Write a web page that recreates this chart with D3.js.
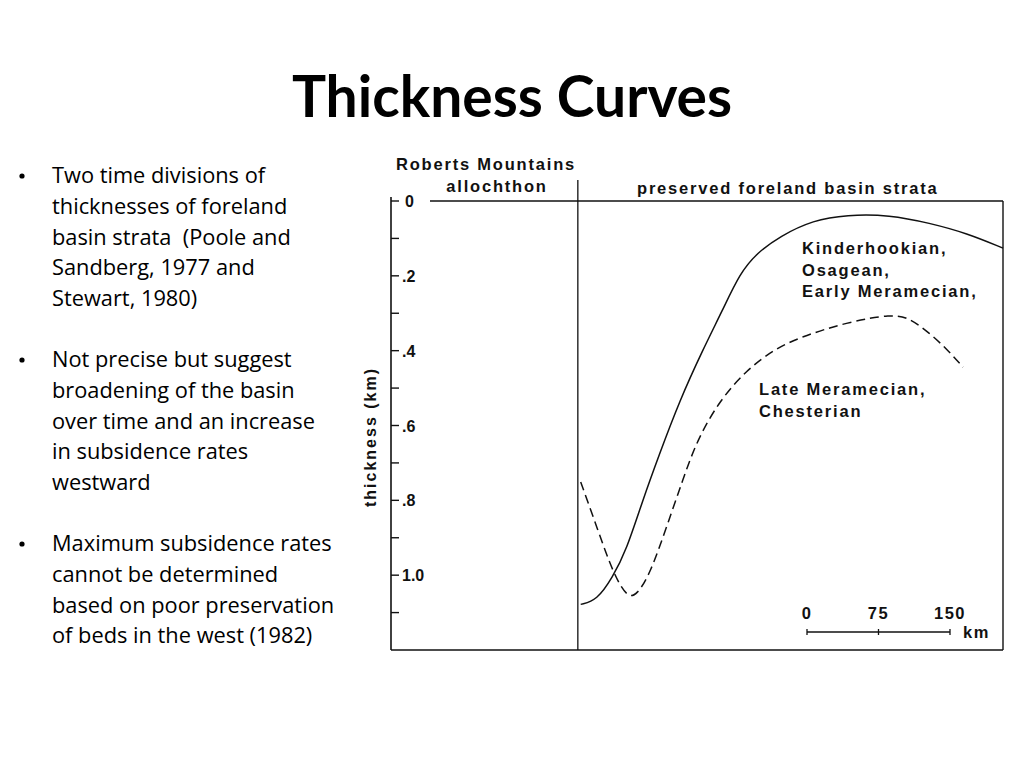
<!DOCTYPE html>
<html>
<head>
<meta charset="utf-8">
<script src="https://cdn.jsdelivr.net/npm/d3@7"></script>
<style>
  body { margin: 0; background: #fff; }
  svg { display: block; }
</style>
</head>
<body>
<svg id="chart" width="1024" height="768"></svg>
<script>
// data: distance east of the allochthon front (km) and thickness (km)
var earlyKm = [3, 20, 36, 51, 68, 85, 107, 131, 152, 170, 188, 212, 247, 282, 327, 369, 408, 446];
var earlyThick = [1.078, 1.067, 1.008, 0.933, 0.80, 0.68, 0.532, 0.398, 0.291, 0.193, 0.139, 0.094, 0.051, 0.037, 0.037, 0.059, 0.086, 0.126];
var lateKm = [3, 20, 37, 52, 62, 76, 93, 110, 125, 149, 177, 205, 233, 282, 330, 348, 369, 388, 404];
var lateThick = [0.751, 0.872, 0.995, 1.061, 1.053, 0.995, 0.872, 0.746, 0.639, 0.532, 0.452, 0.398, 0.364, 0.324, 0.302, 0.313, 0.353, 0.398, 0.444];
var majorTicks = [0, 0.2, 0.4, 0.6, 0.8, 1.0];
var majorLabels = ["0", ".2", ".4", ".6", ".8", "1.0"];
var minorTicks = [0.1, 0.3, 0.5, 0.7, 0.9, 1.1];
var scaleKm = [0, 75, 150];
var earlyLabel = ["Kinderhookian,", "Osagean,", "Early Meramecian,"];
var lateLabel = ["Late Meramecian,", "Chesterian"];
var bullets = [
  ["Two time divisions of", "thicknesses of foreland", "basin strata  (Poole and", "Sandberg, 1977 and", "Stewart, 1980)"],
  ["Not precise but suggest", "broadening of the basin", "over time and an increase", "in subsidence rates", "westward"],
  ["Maximum subsidence rates", "cannot be determined", "based on poor preservation", "of beds in the west (1982)"]
];

var svg = d3.select("#chart");
var ink = "#111";
var figFont = "'Liberation Sans', Arial, sans-serif";

// title
svg.append("text")
    .attr("x", 512).attr("y", 117)
    .attr("text-anchor", "middle")
    .style("font-family", "Lato, 'Open Sans', sans-serif")
    .style("font-weight", "bold")
    .style("font-size", "57px")
    .attr("fill", "#000")
    .text("Thickness Curves");

// bullet list
var lineH = 30.8;
var paraTop = [183, 367, 551];
bullets.forEach(function (para, pi) {
    svg.append("circle")
        .attr("cx", 22).attr("cy", paraTop[pi] - 7).attr("r", 2.6)
        .attr("fill", "#000");
    para.forEach(function (line, li) {
        svg.append("text")
            .attr("x", 52).attr("y", paraTop[pi] + li * lineH)
            .style("font-family", "'Open Sans', sans-serif")
            .style("font-size", "21.8px")
            .style("white-space", "pre")
            .attr("fill", "#000")
            .text(line);
    });
});

// figure scales
var x = d3.scaleLinear().domain([-196, 446]).range([391, 1003]);
var y = d3.scaleLinear().domain([0, 1.2]).range([201, 650]);

var fig = svg.append("g");

// frame
fig.append("line").attr("x1", 391).attr("x2", 391).attr("y1", 197).attr("y2", y(1.2))
    .attr("stroke", ink).attr("stroke-width", 1.6);
fig.append("line").attr("x1", 391).attr("x2", x(446)).attr("y1", y(1.2)).attr("y2", y(1.2))
    .attr("stroke", ink).attr("stroke-width", 1.6);
fig.append("line").attr("x1", x(446)).attr("x2", x(446)).attr("y1", y(0)).attr("y2", y(1.2))
    .attr("stroke", ink).attr("stroke-width", 1.4);
fig.append("line").attr("x1", 430).attr("x2", x(446)).attr("y1", y(0)).attr("y2", y(0))
    .attr("stroke", ink).attr("stroke-width", 1.4);
fig.append("line").attr("x1", x(0)).attr("x2", x(0)).attr("y1", 180).attr("y2", y(1.2))
    .attr("stroke", ink).attr("stroke-width", 1.3);

// thickness ticks
fig.selectAll(".major").data(majorTicks).enter().append("line")
    .attr("x1", 391).attr("x2", 399)
    .attr("y1", function (d) { return y(d); }).attr("y2", function (d) { return y(d); })
    .attr("stroke", ink).attr("stroke-width", 1.4);
fig.selectAll(".minor").data(minorTicks).enter().append("line")
    .attr("x1", 391).attr("x2", 399)
    .attr("y1", function (d) { return y(d); }).attr("y2", function (d) { return y(d); })
    .attr("stroke", ink).attr("stroke-width", 1.4);
fig.selectAll(".tlab").data(majorTicks).enter().append("text")
    .attr("x", function (d, i) { return i === 0 ? 405 : 402; })
    .attr("y", function (d) { return y(d) + 6; })
    .style("font-family", figFont).style("font-size", "16px").style("font-weight", "bold")
    .attr("fill", ink)
    .text(function (d, i) { return majorLabels[i]; });

fig.append("text")
    .attr("transform", "translate(376,437) rotate(-90)")
    .attr("text-anchor", "middle")
    .style("font-family", figFont).style("font-size", "16px").style("font-weight", "bold")
    .style("letter-spacing", "2px")
    .attr("fill", ink)
    .text("thickness (km)");

// headings
function label(txt, px, py, anchor) {
    return fig.append("text")
        .attr("x", px).attr("y", py)
        .attr("text-anchor", anchor || "start")
        .style("font-family", figFont).style("font-size", "16.5px").style("font-weight", "bold")
        .style("letter-spacing", "1.8px")
        .attr("fill", ink)
        .text(txt);
}
label("Roberts Mountains", 486, 170, "middle");
label("allochthon", 497, 192, "middle");
label("preserved foreland basin strata", 637, 194);

// curves
var line = d3.line()
    .x(function (d) { return x(d[0]); })
    .y(function (d) { return y(d[1]); })
    .curve(d3.curveBasis);

fig.append("path")
    .datum(d3.zip(earlyKm, earlyThick))
    .attr("d", line)
    .attr("fill", "none").attr("stroke", ink).attr("stroke-width", 1.5);

fig.append("path")
    .datum(d3.zip(lateKm, lateThick))
    .attr("d", line)
    .attr("fill", "none").attr("stroke", ink).attr("stroke-width", 1.5)
    .attr("stroke-dasharray", "9,5");

earlyLabel.forEach(function (t, i) { label(t, 802, 254 + i * 21.5); });
lateLabel.forEach(function (t, i) { label(t, 759, 395 + i * 21.5); });

// scale bar
var bar = fig.append("g").attr("transform", "translate(807,632)");
bar.append("line").attr("x1", 0).attr("x2", x(150) - x(0)).attr("y1", 0).attr("y2", 0)
    .attr("stroke", ink).attr("stroke-width", 1.3);
bar.selectAll(".sb").data(scaleKm).enter().append("line")
    .attr("x1", function (d) { return x(d) - x(0); }).attr("x2", function (d) { return x(d) - x(0); })
    .attr("y1", -3).attr("y2", 3)
    .attr("stroke", ink).attr("stroke-width", 1.3);
bar.selectAll(".sbl").data(scaleKm).enter().append("text")
    .attr("x", function (d) { return x(d) - x(0); }).attr("y", -13)
    .attr("text-anchor", "middle")
    .style("font-family", figFont).style("font-size", "16.5px").style("font-weight", "bold")
    .style("letter-spacing", "1.5px")
    .attr("fill", ink)
    .text(function (d) { return d; });
bar.append("text").attr("x", 156).attr("y", 6)
    .style("font-family", figFont).style("font-size", "16.5px").style("font-weight", "bold")
    .style("letter-spacing", "1.5px")
    .attr("fill", ink)
    .text("km");
</script>
</body>
</html>
